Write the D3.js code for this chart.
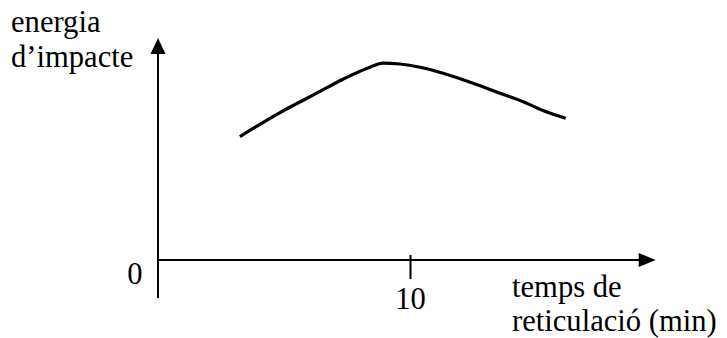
<!DOCTYPE html>
<html>
<head>
<meta charset="utf-8">
<script src="https://cdn.jsdelivr.net/npm/d3@7"></script>
<style>
  html, body { margin: 0; padding: 0; background: #fff; }
  svg text { font-family: "Liberation Serif", "Times New Roman", serif; fill: #000; }
</style>
</head>
<body>
<svg id="chart" width="727" height="338"></svg>
<script>
// Time of cross-linking (min) against impact energy (arbitrary units)
const times = [3.25, 4.84, 6.30, 7.34, 8.41, 8.93, 9.60, 10.40, 11.31, 12.50, 13.57, 14.63, 15.28, 16.18];
const energy = [6.17, 7.37, 8.34, 9.04, 9.64, 9.84, 9.80, 9.64, 9.34, 8.84, 8.34, 7.84, 7.47, 7.09];
const xTicks = [10];
const yOriginLabel = "0";
const yTitle = ["energia", "d\u2019impacte"];
const xTitle = ["temps de", "reticulació (min)"];

const fontSize = 30.6;
const svg = d3.select("#chart");

const x = d3.scaleLinear().domain([0, 10]).range([158, 410]);
const y = d3.scaleLinear().domain([0, 10]).range([260, 60]);

const xEnd = 19.75, yTop = 11.1, yBottom = -1.9;

// y axis with arrow
svg.append("line")
  .attr("x1", x(0)).attr("x2", x(0))
  .attr("y1", y(yBottom)).attr("y2", y(yTop) + 12)
  .attr("stroke", "#000").attr("stroke-width", 2);
svg.append("path")
  .attr("d", `M${x(0)},${y(yTop)} L${x(0) - 7.5},${y(yTop) + 16} L${x(0) + 7.5},${y(yTop) + 16} Z`)
  .attr("fill", "#000");

// x axis with arrow
svg.append("line")
  .attr("x1", x(0) - 1).attr("x2", x(xEnd) - 12)
  .attr("y1", y(0)).attr("y2", y(0))
  .attr("stroke", "#000").attr("stroke-width", 2);
svg.append("path")
  .attr("d", `M${x(xEnd)},${y(0)} L${x(xEnd) - 17},${y(0) - 7} L${x(xEnd) - 17},${y(0) + 7} Z`)
  .attr("fill", "#000");

// tick on the x axis
const axis = d3.axisBottom(x).tickValues(xTicks).tickSize(19).tickPadding(11).tickFormat(d3.format("d"));
const gx = svg.append("g").attr("transform", `translate(0,${y(0)})`).call(axis);
gx.select(".domain").remove();
gx.selectAll(".tick line").attr("y1", -5).attr("stroke", "#000").attr("stroke-width", 2);
gx.selectAll(".tick text")
  .attr("dy", null).attr("y", 49)
  .attr("font-size", fontSize)
  .attr("font-family", "Liberation Serif, Times New Roman, serif")
  .attr("fill", "#000");

// origin label
svg.append("text")
  .attr("x", x(0) - 23).attr("y", 284)
  .attr("text-anchor", "middle")
  .attr("font-size", fontSize)
  .text(yOriginLabel);

// curve
const line = d3.line()
  .x((d, i) => x(times[i]))
  .y((d, i) => y(energy[i]))
  .curve(d3.curveMonotoneX);
svg.append("path")
  .datum(times)
  .attr("d", line)
  .attr("fill", "none")
  .attr("stroke", "#000")
  .attr("stroke-width", 3.2);

// axis titles
svg.append("text").attr("font-size", fontSize).attr("x", 11).attr("y", 32)
  .selectAll("tspan").data(yTitle).join("tspan")
  .attr("x", 11).attr("dy", (d, i) => i === 0 ? 0 : 35).text(d => d);

svg.append("text").attr("font-size", fontSize).attr("x", 512).attr("y", 297)
  .selectAll("tspan").data(xTitle).join("tspan")
  .attr("x", 512).attr("dy", (d, i) => i === 0 ? 0 : 34).text(d => d);
</script>
</body>
</html>
